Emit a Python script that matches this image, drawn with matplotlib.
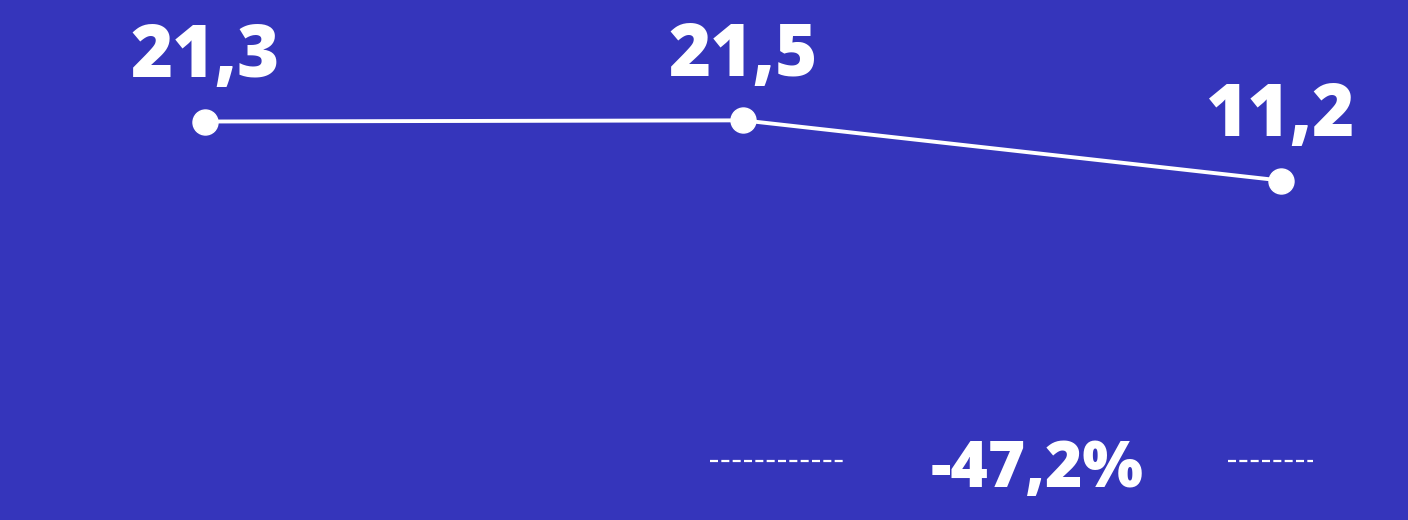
import matplotlib.pyplot as plt

# data
periods = ["A", "B", "C"]
values = [21.3, 21.5, 11.2]
value_labels = ["21,3", "21,5", "11,2"]
change_label = "-47,2%"

bg = "#3535bb"
font = "Open Sans"

fig = plt.figure(figsize=(14.08, 5.2), dpi=100, facecolor=bg)
ax = fig.add_axes([0, 0, 1, 1], facecolor=bg)

x = list(range(len(values)))
ax.plot(x, values, color="white", linewidth=2.8, marker="o",
        markersize=18, markerfacecolor="white", markeredgecolor="white", zorder=3)

for xi, v, lab in zip(x, values, value_labels):
    ax.annotate(lab, (xi, v), xytext=(0, 32), textcoords="offset points",
                ha="center", va="baseline", color="white", fontsize=52,
                fontweight="heavy", family=font)

# change indicator at the bottom
for x0, x1 in [(0.504, 0.601), (0.872, 0.9325)]:
    ax.plot([x0, x1], [0.1135, 0.1135], transform=ax.transAxes, color="white",
            linewidth=1.6, linestyle=(0, (3.6, 1.5)))
ax.text(0.7365, 0.063, change_label, transform=ax.transAxes, ha="center",
        va="baseline", color="white", fontsize=46, fontweight="heavy", family=font)

ax.set_xlim(-0.381, 2.236)
ax.set_ylim(-46.9, 42.1)
ax.axis("off")

fig.savefig("out.png", dpi=100, facecolor=bg)
